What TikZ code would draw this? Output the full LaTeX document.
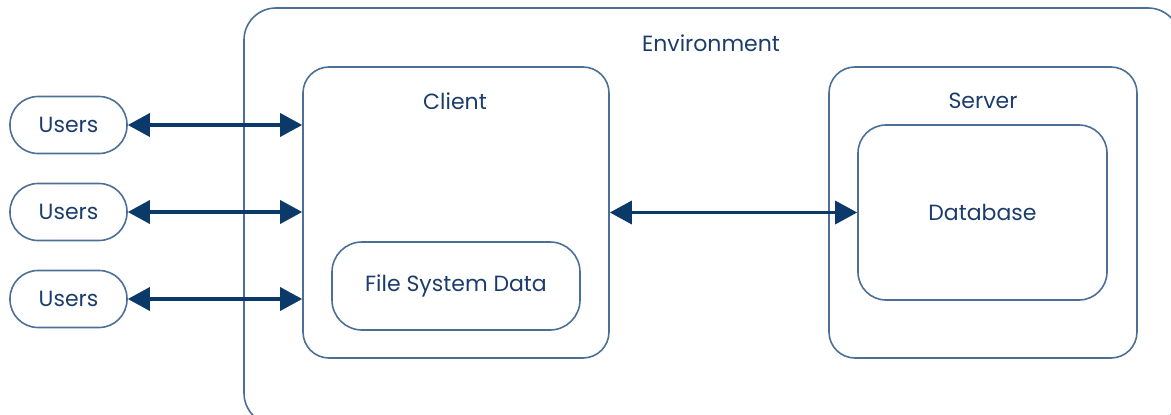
\documentclass[tikz,border=0pt]{standalone}
\usepackage{fontspec}
\setmainfont{Poppins}
\usetikzlibrary{arrows.meta}
\definecolor{boxc}{HTML}{4D6F97}
\definecolor{arrc}{HTML}{0B3A6A}
\definecolor{txtc}{HTML}{1C3D6B}
\begin{document}
\begin{tikzpicture}[x=1pt,y=-1pt,
  box/.style={draw=boxc,line width=1.6pt,rounded corners=#1,inner sep=0pt},
  box/.default=26pt,
  lbl/.style={text=txtc,font=\fontsize{22}{26}\selectfont,inner sep=0pt},
  conn/.style={draw=arrc,line width=3.4pt,{Triangle[length=22pt,width=23pt]}-{Triangle[length=22pt,width=23pt]}}]
\useasboundingbox (0,0) rectangle (1171,415);
\begin{scope}
\clip (0,0) rectangle (1171,415);
\node[box=32pt,minimum width=936pt,minimum height=417pt] (env) at (712,216.5) {};
\end{scope}
\node[lbl] (envt) at (711,43) {Environment};
% client
\node[box,minimum width=306pt,minimum height=291pt] (client) at (456,212.5) {};
\node[lbl] (clientt) at (455,101) {Client};
% server
\node[box,minimum width=308pt,minimum height=291pt] (server) at (983,212.5) {};
\node[lbl] (servert) at (983,101) {Server};
% database
\node[box=28pt,minimum width=249pt,minimum height=175pt,lbl] (db) at (982.5,212.5) {Database};
% file system
\node[box=30pt,minimum width=248pt,minimum height=88pt,lbl] (fs) at (456,286) {File System Data};
% users
\foreach \i/\y in {1/125,2/212,3/299}{
  \node[box=28pt,minimum width=117pt,minimum height=57pt,lbl] (u\i) at (68.5,\y) {Users};
  \draw[conn] (u\i.east) -- (u\i.east -| client.west);
}
\draw[conn] (client.east |- db.west) -- (db.west);
\end{tikzpicture}
\end{document}
